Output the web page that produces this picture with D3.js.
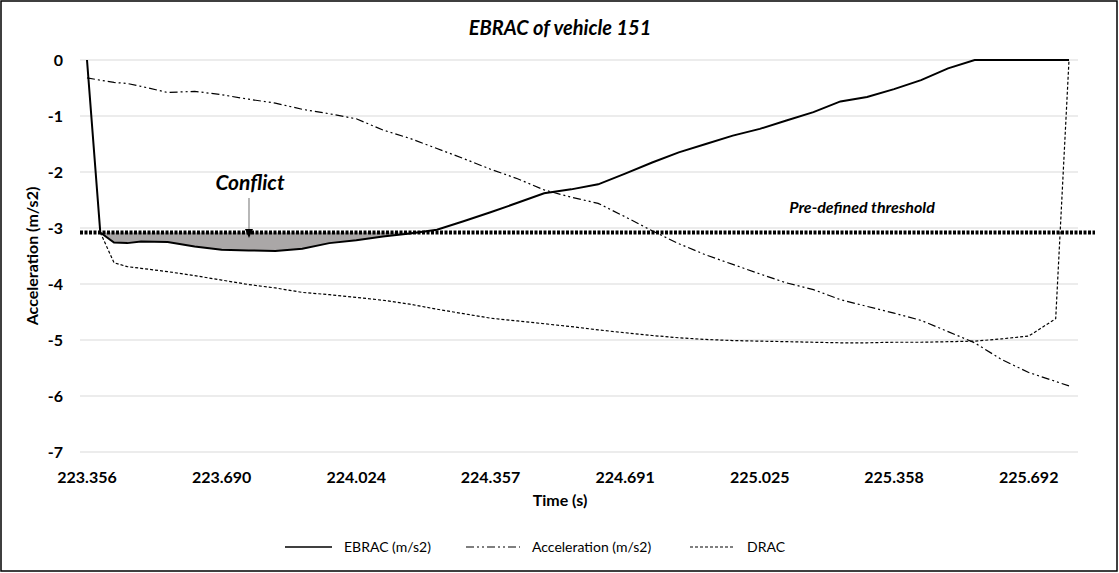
<!DOCTYPE html>
<html>
<head>
<meta charset="utf-8">
<script src="https://cdn.jsdelivr.net/npm/d3@7"></script>
<style>
  body { margin: 0; background: #fff; }
  svg { font-family: Lato, "Open Sans", sans-serif; }
</style>
</head>
<body>
<svg id="chart" width="1119" height="573"></svg>
<script>
// time stamps (s)
const times = [223.356, 223.389, 223.423, 223.456, 223.490, 223.556, 223.623, 223.690, 223.757, 223.823,
  223.890, 223.957, 224.024, 224.090, 224.157, 224.224, 224.290, 224.357, 224.424, 224.490,
  224.557, 224.624, 224.691, 224.758, 224.824, 224.891, 224.958, 225.025, 225.091, 225.158,
  225.225, 225.291, 225.358, 225.425, 225.492, 225.558, 225.625, 225.692, 225.759, 225.792];

const ebrac = [0, -3.08, -3.26, -3.27, -3.24, -3.25, -3.33, -3.39, -3.40, -3.41,
  -3.37, -3.27, -3.22, -3.15, -3.10, -3.03, -2.88, -2.72, -2.55, -2.38,
  -2.31, -2.22, -2.03, -1.83, -1.65, -1.50, -1.35, -1.23, -1.08, -0.93,
  -0.74, -0.66, -0.52, -0.36, -0.15, 0, 0, 0, 0, 0];

const accel = [-0.32, -0.36, -0.40, -0.42, -0.47, -0.58, -0.56, -0.62, -0.70, -0.77,
  -0.88, -0.96, -1.05, -1.25, -1.40, -1.58, -1.76, -1.95, -2.12, -2.32,
  -2.45, -2.56, -2.80, -3.05, -3.28, -3.48, -3.65, -3.82, -3.98, -4.10,
  -4.28, -4.40, -4.52, -4.65, -4.85, -5.05, -5.35, -5.58, -5.74, -5.82];

const drac = [null, -3.08, -3.62, -3.69, -3.72, -3.78, -3.85, -3.93, -4.01, -4.07,
  -4.15, -4.19, -4.24, -4.29, -4.36, -4.45, -4.53, -4.61, -4.66, -4.71,
  -4.76, -4.82, -4.87, -4.92, -4.96, -4.99, -5.01, -5.02, -5.03, -5.04,
  -5.05, -5.05, -5.04, -5.04, -5.03, -5.02, -4.98, -4.93, -4.62, 0];

const xTicks = [223.356, 223.690, 224.024, 224.357, 224.691, 225.025, 225.358, 225.692];
const yTicks = [0, -1, -2, -3, -4, -5, -6, -7];
const threshold = -3.08;

const svg = d3.select("#chart");

// outer frame
svg.append("rect").attr("x", 1).attr("y", 1).attr("width", 1116).attr("height", 570)
  .attr("fill", "none").attr("stroke", "#000").attr("stroke-width", 1.5);

const x = d3.scaleLinear().domain([223.356, 225.792]).range([87, 1069]);
const y = d3.scaleLinear().domain([-7, 0]).range([452, 60]);

// gridlines
svg.append("g").selectAll("line").data(yTicks).enter().append("line")
  .attr("x1", 80).attr("x2", 1078)
  .attr("y1", d => y(d)).attr("y2", d => y(d))
  .attr("stroke", "#d9d9d9").attr("stroke-width", 1);

// y tick labels
svg.append("g").selectAll("text").data(yTicks).enter().append("text")
  .attr("x", 63).attr("y", d => y(d)).attr("dy", "0.35em")
  .attr("text-anchor", "end").attr("font-size", 16).attr("font-weight", "bold")
  .text(d => d);

// x tick labels
svg.append("g").selectAll("text").data(xTicks).enter().append("text")
  .attr("x", d => x(d)).attr("y", 483)
  .attr("text-anchor", "middle").attr("font-size", 16).attr("font-weight", "bold")
  .text(d => d.toFixed(3));

// conflict shading
const pts = times.map((t, i) => ({t, v: ebrac[i], i}));
const shade = pts.filter(d => d.i >= 1 && d.i <= 15);
svg.append("path").datum(shade)
  .attr("fill", "#aaa7a7")
  .attr("d", d3.area().x(d => x(d.t)).y0(y(threshold)).y1(d => y(Math.min(d.v, threshold))));

// lines
const line = d3.line().defined(d => d.v !== null).x(d => x(d.t)).y(d => y(d.v));
svg.append("path").datum(times.map((t, i) => ({t, v: drac[i]})))
  .attr("fill", "none").attr("stroke", "#000").attr("stroke-width", 1.2)
  .attr("stroke-dasharray", "3,2").attr("d", line);
svg.append("path").datum(times.map((t, i) => ({t, v: accel[i]})))
  .attr("fill", "none").attr("stroke", "#000").attr("stroke-width", 1.2)
  .attr("stroke-dasharray", "8,3,2,3,2,3").attr("d", line);
svg.append("path").datum(pts)
  .attr("fill", "none").attr("stroke", "#000").attr("stroke-width", 2)
  .attr("d", line);

// threshold
svg.append("line").attr("x1", 80).attr("x2", 1095)
  .attr("y1", y(threshold)).attr("y2", y(threshold))
  .attr("stroke", "#000").attr("stroke-width", 4).attr("stroke-dasharray", "3,1.5");

// conflict annotation
svg.append("line").attr("x1", 249).attr("x2", 249).attr("y1", 198).attr("y2", 229)
  .attr("stroke", "#888").attr("stroke-width", 1.2);
svg.append("path").attr("d", "M245,229 L253,229 L249,238 Z").attr("fill", "#000");
svg.append("text").attr("x", 250).attr("y", 190).attr("text-anchor", "middle")
  .attr("font-size", 21).attr("font-weight", "bold").attr("font-style", "italic").text("Conflict");
svg.append("text").attr("x", 862).attr("y", 213).attr("text-anchor", "middle")
  .attr("font-size", 16).attr("font-weight", "bold").attr("font-style", "italic").text("Pre-defined threshold");

// titles
svg.append("text").attr("x", 560).attr("y", 35).attr("text-anchor", "middle")
  .attr("font-size", 20).attr("font-weight", "bold").attr("font-style", "italic").text("EBRAC of vehicle 151");
svg.append("text").attr("x", 560).attr("y", 506).attr("text-anchor", "middle")
  .attr("font-size", 16).attr("font-weight", "bold").text("Time (s)");
svg.append("text").attr("transform", "translate(38,256) rotate(-90)").attr("text-anchor", "middle")
  .attr("font-size", 16).attr("font-weight", "bold").text("Acceleration (m/s2)");

// legend
const legend = [
  {label: "EBRAC (m/s2)", x1: 285, x2: 332, dash: null, w: 1.5},
  {label: "Acceleration (m/s2)", x1: 466, x2: 520, dash: "8,3,2,3,2,3", w: 1.2},
  {label: "DRAC", x1: 690, x2: 735, dash: "3,2", w: 1.2}
];
const lg = svg.append("g").selectAll("g").data(legend).enter().append("g");
lg.append("line").attr("x1", d => d.x1).attr("x2", d => d.x2).attr("y1", 547).attr("y2", 547)
  .attr("stroke", "#000").attr("stroke-width", d => d.w).attr("stroke-dasharray", d => d.dash);
lg.append("text").attr("x", d => d.x2 + 12).attr("y", 547).attr("dy", "0.35em")
  .attr("font-size", 14).text(d => d.label);
</script>
</body>
</html>
